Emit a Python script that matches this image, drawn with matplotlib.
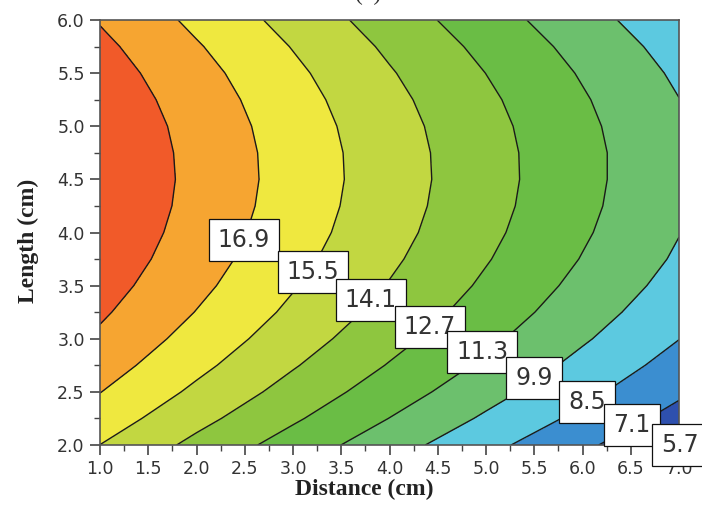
import numpy as np
import matplotlib
matplotlib.use("Agg")
import matplotlib.pyplot as plt
from matplotlib.ticker import MultipleLocator, FormatStrFormatter

# ---- data ----
distance = [1.0, 2.0, 3.0, 4.0, 5.0, 6.0, 7.0]          # x grid (cm)
length = [2.0, 2.25, 2.5, 2.75, 3.0, 3.25, 3.5, 3.75, 4.0,
          4.25, 4.5, 4.75, 5.0, 5.25, 5.5, 5.75, 6.0]   # y grid (cm)

# response values along Length, one list per Distance column
z_d1 = [14.09, 14.85, 15.53, 16.13, 16.66, 17.10, 17.47, 17.76, 17.97,
        18.10, 18.15, 18.12, 18.02, 17.83, 17.57, 17.23, 16.81]
z_d2 = [12.34, 13.12, 13.83, 14.45, 14.99, 15.46, 15.84, 16.14, 16.35,
        16.49, 16.55, 16.52, 16.42, 16.23, 15.97, 15.62, 15.19]
z_d3 = [10.70, 11.49, 12.19, 12.81, 13.35, 13.82, 14.20, 14.50, 14.72,
        14.86, 14.93, 14.91, 14.81, 14.63, 14.38, 14.04, 13.62]
z_d4 = [9.09, 9.88, 10.59, 11.22, 11.77, 12.24, 12.63, 12.93, 13.16,
        13.30, 13.37, 13.35, 13.25, 13.07, 12.81, 12.47, 12.05]
z_d5 = [7.50, 8.30, 9.02, 9.66, 10.21, 10.69, 11.08, 11.39, 11.62,
        11.77, 11.84, 11.82, 11.73, 11.55, 11.29, 10.95, 10.53]
z_d6 = [5.96, 6.76, 7.47, 8.10, 8.66, 9.13, 9.52, 9.84, 10.07,
        10.22, 10.29, 10.29, 10.20, 10.03, 9.78, 9.45, 9.04]
z_d7 = [4.41, 5.21, 5.93, 6.56, 7.12, 7.59, 7.99, 8.31, 8.54,
        8.70, 8.77, 8.77, 8.68, 8.52, 8.27, 7.95, 7.54]

contour_levels = [5.7, 7.1, 8.5, 9.9, 11.3, 12.7, 14.1, 15.5, 16.9]
level_labels = ["5.7", "7.1", "8.5", "9.9", "11.3", "12.7", "14.1", "15.5", "16.9"]
x_ticks = [1.0, 1.5, 2.0, 2.5, 3.0, 3.5, 4.0, 4.5, 5.0, 5.5, 6.0, 6.5, 7.0]
y_ticks = [2.0, 2.5, 3.0, 3.5, 4.0, 4.5, 5.0, 5.5, 6.0]

# ---- styling ----
fill_colors = ["#2E50AE", "#3B8ED0", "#5CC9E0", "#6CC06D", "#6ABD45",
               "#8EC63F", "#C2D741", "#EFE83F", "#F6A531", "#F15A29"]
# label box centres (layout, data coords), same order as contour_levels
label_x = [7.01, 6.513, 6.047, 5.497, 4.959, 4.420, 3.808, 3.207, 2.492]
label_y = [2.0, 2.188, 2.405, 2.631, 2.875, 3.111, 3.365, 3.628, 3.929]

X, Y = np.meshgrid(np.array(distance), np.array(length))
Z = np.column_stack([z_d1, z_d2, z_d3, z_d4, z_d5, z_d6, z_d7])

fig = plt.figure(figsize=(7.02, 5.24), dpi=100)
ax = fig.add_axes([100 / 702, 1 - 445 / 524, 579 / 702, 425 / 524])

fill_levels = [Z.min() - 0.1] + contour_levels + [Z.max() + 0.1]
ax.contourf(X, Y, Z, levels=fill_levels, colors=fill_colors)
ax.contour(X, Y, Z, levels=contour_levels, colors="#1a1a1a", linewidths=1.0)

ax.set_xlim(1.0, 7.0)
ax.set_ylim(2.0, 6.0)
ax.set_xticks(x_ticks)
ax.set_yticks(y_ticks)
ax.xaxis.set_major_formatter(FormatStrFormatter("%.1f"))
ax.yaxis.set_major_formatter(FormatStrFormatter("%.1f"))
ax.xaxis.set_minor_locator(MultipleLocator(0.25))
ax.yaxis.set_minor_locator(MultipleLocator(0.25))
ax.tick_params(which="major", direction="out", length=7, width=1.2,
               color="#444444", labelsize=12.5, labelcolor="#333333", pad=4)
ax.tick_params(which="minor", direction="out", length=4, width=1.0,
               color="#444444")
for lab in ax.get_xticklabels() + ax.get_yticklabels():
    lab.set_family("DejaVu Sans")
for sp in ax.spines.values():
    sp.set_color("#555555")
    sp.set_linewidth(1.2)

for i, (lx, ly, txt) in enumerate(zip(label_x, label_y, level_labels)):
    ax.text(lx, ly, txt, ha="center", va="center", fontsize=17,
            family="DejaVu Sans", color="#333333", zorder=10 + (9 - i),
            clip_on=False,
            bbox=dict(boxstyle="square,pad=0.38", facecolor="white",
                      edgecolor="#111111", linewidth=0.9))

fig.text(364 / 702, 1 - 489 / 524, "Distance (cm)", ha="center", va="center",
         fontsize=17, fontweight="bold", family="Liberation Serif", color="#222222")
fig.text(28 / 702, 1 - 241 / 524, "Length (cm)", ha="center", va="center",
         rotation=90, fontsize=17, fontweight="bold", family="Liberation Serif",
         color="#222222")
fig.text(368 / 702, 1 - 5 / 524, "(c)", ha="center", va="bottom",
         fontsize=17, family="Liberation Serif", color="#333333")

fig.savefig("out.png", dpi=100)
